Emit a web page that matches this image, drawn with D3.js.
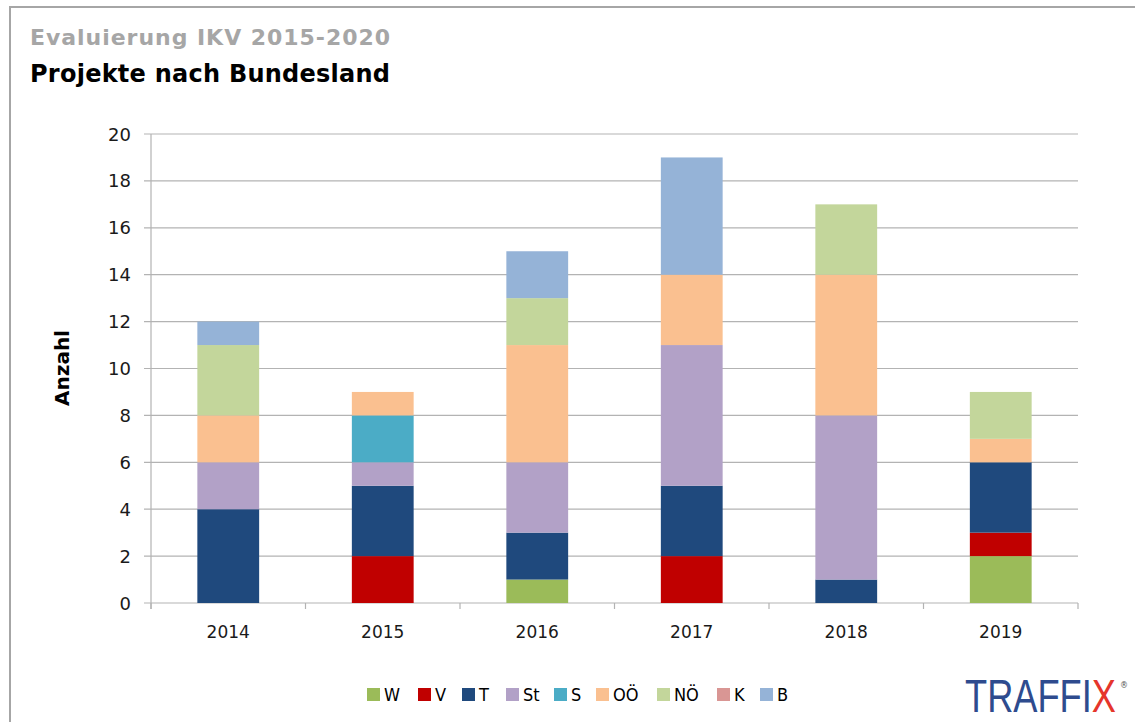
<!DOCTYPE html>
<html>
<head>
<meta charset="utf-8">
<script src="https://cdn.jsdelivr.net/npm/d3@7"></script>
<style>
  body { margin: 0; background: #fff; }
  svg { display: block; font-family: "DejaVu Sans", "Noto Sans", sans-serif; }
</style>
</head>
<body>
<svg id="chart" width="1135" height="722"></svg>
<script>
// === Data ===
const years = ['2014', '2015', '2016', '2017', '2018', '2019'];
const states = ['W', 'V', 'T', 'St', 'S', 'OÖ', 'NÖ', 'K', 'B'];
const stateColors = ['#9bbb59', '#c00000', '#1f497d', '#b2a1c7', '#4bacc6', '#fac090', '#c3d69b', '#d99694', '#95b3d7'];
// projects per state, one value per year
const W  = [0, 0, 1, 0, 0, 2];
const V  = [0, 2, 0, 2, 0, 1];
const T  = [4, 3, 2, 3, 1, 3];
const St = [2, 1, 3, 6, 7, 0];
const S  = [0, 2, 0, 0, 0, 0];
const OO = [2, 1, 5, 3, 6, 1];
const NO = [3, 0, 2, 0, 3, 2];
const K  = [0, 0, 0, 0, 0, 0];
const B  = [1, 0, 2, 5, 0, 0];
const yTicks = [0, 2, 4, 6, 8, 10, 12, 14, 16, 18, 20];

(function () {
    const series = [W, V, T, St, S, OO, NO, K, B];
    const rows = years.map((y, i) => {
        const r = { year: y };
        states.forEach((s, k) => r[s] = series[k][i]);
        return r;
    });

    const svg = d3.select('#chart');
    const m = { left: 151, right: 1078, top: 134, bottom: 603 };

    // outer frame
    svg.append('path')
        .attr('d', 'M10,730 L10,7 L1140,7')
        .attr('fill', 'none')
        .attr('stroke', '#a6a6a6')
        .attr('stroke-width', 2);

    // titles
    svg.append('text').attr('x', 30).attr('y', 45)
        .attr('font-size', 22).attr('font-weight', 'bold').attr('fill', '#a6a6a6')
        .attr('textLength', 360).text('Evaluierung IKV 2015-2020');
    svg.append('text').attr('x', 30).attr('y', 82)
        .attr('font-size', 24).attr('font-weight', 'bold').attr('fill', '#000')
        .attr('textLength', 360).text('Projekte nach Bundesland');

    const x = d3.scaleBand().domain(years).range([m.left, m.right]).paddingInner(0.6).paddingOuter(0.3);
    const y = d3.scaleLinear().domain([0, 20]).range([m.bottom, m.top]);

    // gridlines
    svg.append('g')
        .selectAll('line')
        .data(yTicks)
        .join('line')
        .attr('x1', m.left - 7).attr('x2', m.right)
        .attr('y1', d => y(d)).attr('y2', d => y(d))
        .attr('stroke', '#b3b3b3').attr('stroke-width', 1.2);

    // y axis line
    svg.append('line')
        .attr('x1', m.left).attr('x2', m.left)
        .attr('y1', m.top).attr('y2', m.bottom + 6)
        .attr('stroke', '#b3b3b3').attr('stroke-width', 1.2);

    // x category ticks
    const step = (m.right - m.left) / years.length;
    svg.append('g')
        .selectAll('line')
        .data(d3.range(years.length + 1))
        .join('line')
        .attr('x1', d => m.left + d * step).attr('x2', d => m.left + d * step)
        .attr('y1', m.bottom).attr('y2', m.bottom + 6)
        .attr('stroke', '#b3b3b3').attr('stroke-width', 1.2);

    // y tick labels
    svg.append('g')
        .selectAll('text')
        .data(yTicks)
        .join('text')
        .attr('x', m.left - 20).attr('y', d => y(d) + 6.5)
        .attr('text-anchor', 'end')
        .attr('font-size', 18).attr('fill', '#1a1a1a')
        .text(d => d);

    // x tick labels
    svg.append('g')
        .selectAll('text')
        .data(years)
        .join('text')
        .attr('x', d => x(d) + x.bandwidth() / 2).attr('y', m.bottom + 35)
        .attr('text-anchor', 'middle')
        .attr('font-size', 17).attr('fill', '#1a1a1a')
        .text(d => d);

    // y axis title
    svg.append('text')
        .attr('transform', 'translate(69,368) rotate(-90)')
        .attr('text-anchor', 'middle')
        .attr('font-size', 20).attr('font-weight', 'bold').attr('fill', '#000')
        .text('Anzahl');

    // stacked bars
    const stack = d3.stack().keys(states)(rows);
    svg.append('g')
        .selectAll('g')
        .data(stack)
        .join('g')
        .attr('fill', (d, i) => stateColors[i])
        .selectAll('rect')
        .data(d => d.filter(p => p[1] > p[0]))
        .join('rect')
        .attr('x', d => x(d.data.year))
        .attr('width', x.bandwidth())
        .attr('y', d => y(d[1]))
        .attr('height', d => y(d[0]) - y(d[1]));

    // legend
    const legendX = [367, 418, 462, 506, 554, 596, 657, 717, 760];
    const lg = svg.append('g')
        .selectAll('g')
        .data(states)
        .join('g')
        .attr('transform', (d, i) => `translate(${legendX[i]},688)`);
    lg.append('rect')
        .attr('x', 0).attr('y', 0).attr('width', 13).attr('height', 13)
        .attr('fill', (d, i) => stateColors[i]);
    lg.append('text')
        .attr('x', 17).attr('y', 13)
        .attr('font-size', 18).attr('fill', '#000')
        .attr('font-family', '"DejaVu Sans Condensed", "DejaVu Sans", sans-serif')
        .text(d => d);

    // logo
    const logo = svg.append('text')
        .attr('font-size', 47).attr('font-family', '"Liberation Sans", Arial, sans-serif');
    logo.append('tspan').attr('fill', '#2e4b8e').text('TRAFFI');
    logo.append('tspan').attr('fill', '#e5352b').text('X');
    const natural = logo.node().getComputedTextLength();
    logo.attr('transform', `translate(965,712) scale(${151 / natural},1)`);
    svg.append('text').attr('x', 1120).attr('y', 688)
        .attr('font-size', 8).attr('fill', '#555').text('®');
})();
</script>
</body>
</html>
